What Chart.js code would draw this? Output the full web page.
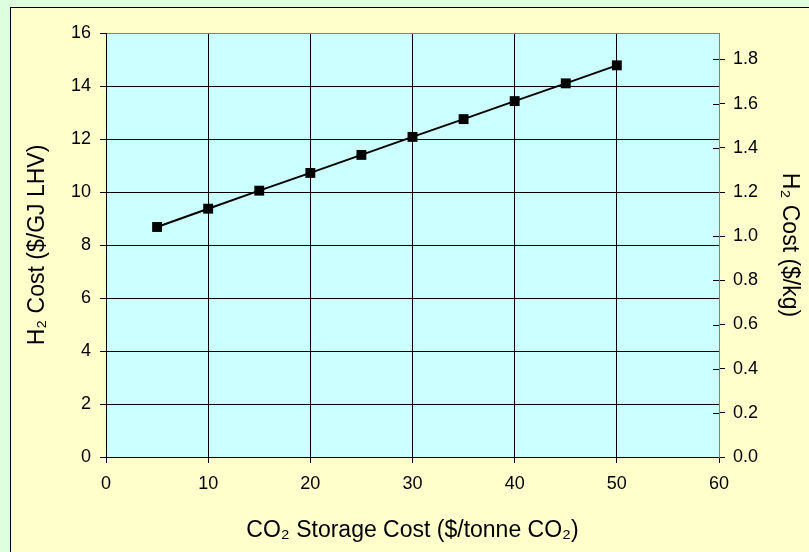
<!DOCTYPE html>
<html>
<head>
<meta charset="utf-8">
<script src="https://cdn.jsdelivr.net/npm/chart.js@4"></script>
<style>
  html, body { margin: 0; padding: 0; background: #DDFFDD; overflow: hidden; }
  #frame { position: absolute; left: 10px; top: 7px; width: 820px; height: 560px;
           background: #FFFFCC; border: 1px solid #000; }
  #wrap { position: absolute; left: 0; top: 0; width: 809px; height: 552px; }
</style>
</head>
<body>
<div id="frame"></div>
<div id="wrap"><canvas id="myChart"></canvas></div>
<script>
// CO2 storage cost ($/tonne CO2) vs H2 cost ($/GJ LHV)
const storageCost = [5, 10, 15, 20, 25, 30, 35, 40, 45, 50];
const h2Cost = [8.68, 9.37, 10.05, 10.72, 11.40, 12.08, 12.75, 13.43, 14.10, 14.78];
const xTicks = [0, 10, 20, 30, 40, 50, 60];
const yTicks = [0, 2, 4, 6, 8, 10, 12, 14, 16];
const y2Ticks = [0.0, 0.2, 0.4, 0.6, 0.8, 1.0, 1.2, 1.4, 1.6, 1.8];
const kgPerGJ = 0.12; // $/GJ LHV -> $/kg

const family = 'Liberation Sans, Arial, sans-serif';
const tickFont = { family: family, size: 18 };
const titleFont = { family: family, size: 23 };

const plotBg = {
  id: 'plotBg',
  beforeDraw(chart) {
    const { ctx, chartArea: a } = chart;
    ctx.save();
    ctx.fillStyle = '#CCFFFF';
    ctx.fillRect(a.left, a.top, a.width, a.height);
    ctx.restore();
  },
  afterDatasetsDraw(chart) {
    // right axis ticks cross the axis line
    const { ctx, chartArea: a } = chart;
    const s = chart.scales.y2;
    ctx.save();
    ctx.strokeStyle = '#000';
    ctx.lineWidth = 1;
    ctx.beginPath();
    y2Ticks.forEach(v => {
      const y = Math.round(s.getPixelForValue(v)) + 0.5;
      ctx.moveTo(a.right - 6, y);
      ctx.lineTo(a.right, y);
    });
    ctx.stroke();
    ctx.restore();
  }
};

const ctx = document.getElementById('myChart').getContext('2d');
ctx.canvas.parentNode.style.width = "809px";
ctx.canvas.parentNode.style.height = "552px";
const myChart = new Chart(ctx, {
  type: 'line',
  data: {
    labels: storageCost,
    datasets: [{
      data: storageCost.map((x, i) => ({ x: x, y: h2Cost[i] })),
      borderColor: '#000',
      backgroundColor: '#000',
      borderWidth: 2,
      pointStyle: 'rect',
      pointRadius: 7,
      pointBorderWidth: 0,
      tension: 0,
      yAxisID: 'y'
    }]
  },
  options: {
    responsive: true,
    maintainAspectRatio: false,
    animation: false,
    layout: { padding: { top: 33, left: 0, right: 0, bottom: 0 } },
    plugins: { legend: { display: false }, tooltip: { enabled: false } },
    scales: {
      x: {
        type: 'linear',
        min: 0, max: 60,
        afterBuildTicks: s => { s.ticks = xTicks.map(v => ({ value: v })); },
        afterFit: s => { s.height = 95; },
        grid: {
          color: c => c.tick && c.tick.value === 60 ? '#808080' : '#000',
          tickColor: '#000',
          tickLength: 6
        },
        border: { color: '#000', width: 1 },
        ticks: { color: '#000', font: tickFont, padding: 10, maxRotation: 0 },
        title: {
          display: true,
          text: 'CO\u2082 Storage Cost ($/tonne CO\u2082)',
          color: '#000',
          font: titleFont,
          padding: { top: 0, bottom: 8 }
        }
      },
      y: {
        position: 'left',
        min: 0, max: 16,
        afterBuildTicks: s => { s.ticks = yTicks.map(v => ({ value: v })); },
        afterFit: s => { s.width = 106; },
        grid: {
          color: c => c.tick && c.tick.value === 16 ? '#808080' : '#000',
          tickColor: '#000',
          tickLength: 6
        },
        border: { color: '#000', width: 1 },
        ticks: { color: '#000', font: tickFont, padding: 9 },
        title: {
          display: true,
          text: 'H\u2082 Cost ($/GJ LHV)',
          color: '#000',
          font: titleFont,
          padding: { top: 24, bottom: 0 }
        }
      },
      y2: {
        position: 'right',
        min: 0, max: 16 * kgPerGJ,
        afterBuildTicks: s => { s.ticks = y2Ticks.map(v => ({ value: v })); },
        afterFit: s => { s.width = 90; },
        grid: { drawOnChartArea: false, color: '#000', tickLength: 6 },
        border: { color: '#808080', width: 1 },
        ticks: { color: '#000', font: tickFont, padding: 8, callback: v => v.toFixed(1) },
        title: {
          display: true,
          text: 'H\u2082 Cost ($/kg)',
          color: '#000',
          font: titleFont,
          padding: { top: 6, bottom: 0 }
        }
      }
    }
  },
  plugins: [plotBg]
});
</script>
</body>
</html>
